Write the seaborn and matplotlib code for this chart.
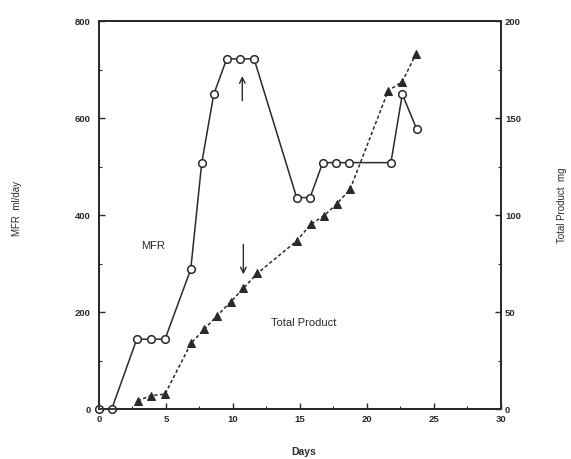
import matplotlib
matplotlib.use("Agg")
import matplotlib.pyplot as plt
import seaborn as sns
import pandas as pd
from matplotlib.ticker import MultipleLocator

# ---- data ----
mfr_days = [0, 0.95, 2.82, 3.86, 4.93, 6.85, 7.67, 8.57, 9.54, 10.53, 11.58,
            14.76, 15.76, 16.71, 17.7, 18.69, 21.8, 22.65, 23.73]
mfr_values = [0, 0, 144, 144, 144, 288, 507, 649, 722, 722, 722,
              436, 436, 508, 508, 508, 508, 649, 577]

prod_days = [2.89, 3.88, 4.93, 6.87, 7.86, 8.79, 9.84, 10.78, 11.82,
             14.76, 15.81, 16.8, 17.75, 18.75, 21.6, 22.65, 23.65]
prod_values = [4.3, 6.9, 7.7, 33.9, 41.1, 47.9, 55.3, 62.2, 69.9,
               86.6, 95.2, 99.6, 105.7, 113.2, 164.1, 168.7, 182.8]

x_ticks = [0, 5, 10, 15, 20, 25, 30]
left_ticks = [0, 200, 400, 600, 800]
right_ticks = [0, 50, 100, 150, 200]

mfr_df = pd.DataFrame({"Days": mfr_days, "MFR": mfr_values})
prod_df = pd.DataFrame({"Days": prod_days, "Total": prod_values})

sns.set_style("ticks")
plt.rcParams["font.family"] = ["Liberation Sans", "DejaVu Sans"]

ink = "#2a2a2a"
fig = plt.figure(figsize=(5.71, 4.59), dpi=100)
ax = fig.add_axes([0.1734, 0.1089, 0.8769 - 0.1734, 0.9542 - 0.1089])
ax2 = ax.twinx()

sns.lineplot(data=mfr_df, x="Days", y="MFR", ax=ax, color=ink, lw=1.1,
             marker="o", markersize=5.5, markerfacecolor="white",
             markeredgecolor=ink, markeredgewidth=1.1, clip_on=False,
             zorder=3)
sns.lineplot(data=prod_df, x="Days", y="Total", ax=ax2, color=ink, lw=1.1,
             linestyle=(0, (2.2, 1.6)), marker="^", markersize=5.5,
             markerfacecolor=ink, markeredgecolor=ink, clip_on=False,
             zorder=3)

ax.set_xlim(0, 30)
ax.set_ylim(0, 800)
ax2.set_ylim(0, 200)
ax.set_xticks(x_ticks)
ax.set_xticklabels([str(t) for t in x_ticks])
ax.set_yticks(left_ticks)
ax.set_yticklabels([str(t) for t in left_ticks])
ax2.set_yticks(right_ticks)
ax2.set_yticklabels([str(t) for t in right_ticks])
ax.xaxis.set_minor_locator(MultipleLocator(2.5))
ax.yaxis.set_minor_locator(MultipleLocator(100))
ax2.yaxis.set_minor_locator(MultipleLocator(25))

for a in (ax, ax2):
    a.set_xlabel("")
    a.set_ylabel("")
    for s in a.spines.values():
        s.set_visible(True)
        s.set_color(ink)
        s.set_linewidth(1.3)
    a.tick_params(which="major", direction="in", length=4, width=1,
                  color=ink, labelsize=6.8, labelcolor=ink)
    a.tick_params(which="minor", direction="in", length=2.5, width=0.8,
                  color=ink)
ax.tick_params(axis="y", pad=6)
ax.tick_params(axis="x", pad=4)
ax2.tick_params(axis="y", pad=3)
for lab in ax.get_xticklabels() + ax.get_yticklabels() + ax2.get_yticklabels():
    lab.set_fontweight("bold")

# annotations
ax.annotate("", xy=(10.7, 692), xytext=(10.7, 630),
            arrowprops=dict(arrowstyle="->", color=ink, lw=1.0))
ax.annotate("", xy=(10.78, 272), xytext=(10.78, 345),
            arrowprops=dict(arrowstyle="->", color=ink, lw=1.0))
ax.text(4.06, 337, "MFR", fontsize=8, color=ink, ha="center", va="center")
ax.text(15.3, 177, "Total Product", fontsize=8, color=ink,
        ha="center", va="center")

fig.text(17 / 571, 1 - 208 / 459, "MFR  ml/day", rotation=90, fontsize=7,
         color=ink, ha="center", va="center")
fig.text(562 / 571, 1 - 205 / 459, "Total Product  mg", rotation=90,
         fontsize=7, color=ink, ha="center", va="center")
fig.text(304 / 571, 1 - 452 / 459, "Days", fontsize=7.5, color=ink,
         fontweight="bold", ha="center", va="center")

fig.savefig("out.png", dpi=100)
